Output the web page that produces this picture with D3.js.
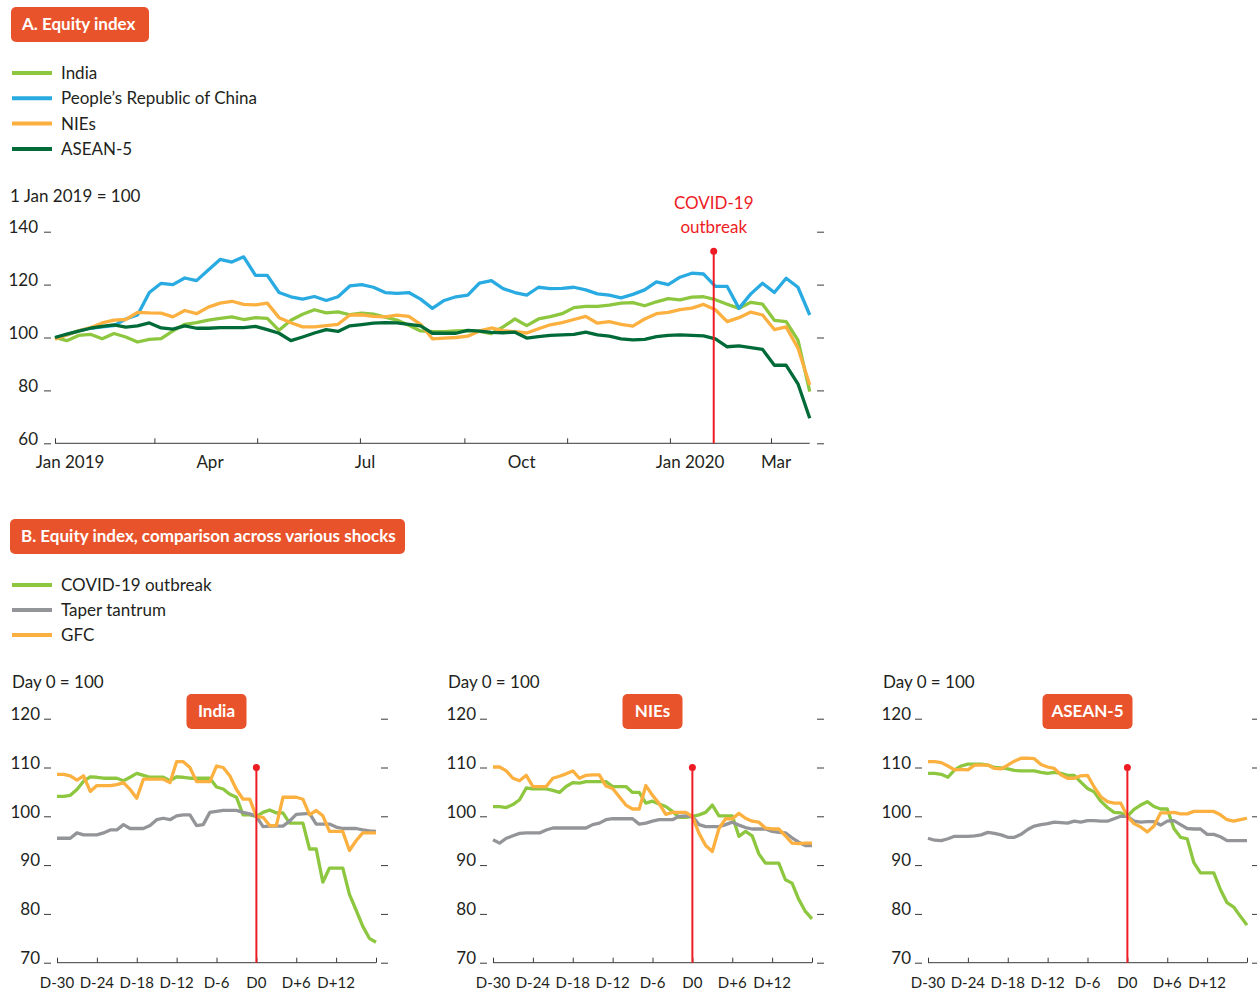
<!DOCTYPE html>
<html><head><meta charset="utf-8">
<script src="https://cdn.jsdelivr.net/npm/d3@7/dist/d3.min.js"></script>
<style>
body{margin:0;background:#fff;}
text{font-family:Lato,"Open Sans",sans-serif;}
</style>
</head><body>
<svg id="c" width="1257" height="991"></svg>
<script>
// ---------------- Panel A data ----------------
const seriesA = ["India", "People\u2019s Republic of China", "NIEs", "ASEAN-5"];
const colorsA = ["#8DC63F", "#29ABE2", "#FBB040", "#006B38"];
const startA = "2019-01-01";          // first weekly observation
const indiaA = [100, 98.8, 100.8, 101.2, 99.5, 101.5, 100.2, 98.3, 99.3, 99.6,
  102.5, 105, 105.6, 106.6, 107.2, 107.8, 106.8, 107.5, 107.2, 102.7,
  106.5, 108.8, 110.5, 109.3, 109.7, 108.6, 109.2, 108.8, 107.7, 106.6,
  104.6, 102.5, 102.2, 102.2, 102.5, 102.6, 102.3, 101.5, 104, 107,
  104.5, 107, 107.9, 109, 111.3, 111.8, 111.8, 112.2, 113, 113.2,
  112, 113.5, 114.7, 114.2, 115.3, 115.4, 114.3, 112.6, 111, 113.3,
  112.6, 106.5, 106, 99, 79.5];
const chinaA = [100, 101, 102.5, 103.5, 104, 104.5, 107, 108.5, 117, 120.5,
  120, 122.5, 121.5, 125.5, 129.5, 128.5, 130.5, 123.5, 123.5, 117,
  115.4, 114.5, 115.5, 114, 115.4, 119.5, 120, 119, 117, 116.7,
  117, 114.5, 111, 114, 115.4, 116, 120.6, 121.5, 118.5, 117,
  116, 119, 118.5, 118.6, 119, 118, 116.5, 116, 115, 116.3,
  118, 121, 120, 122.8, 124.3, 124, 119.3, 119.3, 111, 116.5,
  120.5, 117, 122.4, 119, 108.5];
const niesA = [99.4, 101, 102.5, 103.7, 105.5, 106.6, 106.8, 109.5, 109.3, 109.2,
  107.8, 110.2, 109, 111.5, 113, 113.7, 112.5, 112.3, 113, 107.5,
  105.6, 104, 104, 104.5, 105, 108.5, 108.6, 108, 107.8, 108.5,
  108, 105, 99.5, 99.8, 100, 100.5, 102.5, 103.6, 102.6, 102.2,
  101.7, 103.3, 104.8, 105.6, 106.8, 108, 105.4, 106, 105, 104.3,
  107, 109, 109.5, 110.5, 111.1, 112.5, 110.5, 106, 107.5, 109.6,
  108.5, 103, 104, 96, 82];
const aseanA = [100, 101.3, 102.4, 103.5, 104.2, 104.8, 103.9, 104.4, 105.5, 103.6,
  103.2, 104.4, 103.5, 103.5, 103.7, 103.7, 103.7, 104.2, 103, 101.6,
  98.8, 100.2, 101.7, 103, 102.3, 104.4, 104.9, 105.4, 105.6, 105.5,
  105, 104.4, 101.6, 101.6, 101.6, 102.7, 102.4, 101.9, 101.8, 102,
  99.8, 100.3, 100.8, 101, 101.2, 102, 101, 100.5, 99.5, 99.1,
  99.3, 100.3, 100.8, 101, 100.8, 100.6, 99.5, 96.5, 96.8, 96.2,
  95.5, 89.5, 89.5, 82.5, 69.5];
const yTicksA = [60, 80, 100, 120, 140];
const xTickDatesA = ["2019-01-01", "2019-03-01", "2019-05-01", "2019-07-01", "2019-09-01", "2019-11-01", "2020-01-01", "2020-03-01"];
const xLabelsA = ["Jan 2019", "Apr", "Jul", "Oct", "Jan 2020", "Mar"];
const xLabelDatesA = ["2019-01-10", "2019-04-03", "2019-07-04", "2019-10-05", "2020-01-13", "2020-03-04"];
const covidDateA = "2020-01-27";
const covidTopA = 132.6;

// ---------------- Panel B data ----------------
const seriesB = ["COVID-19 outbreak", "Taper tantrum", "GFC"];
const colorsB = ["#8DC63F", "#939598", "#FBB040"];
const panelsB = ["India", "NIEs", "ASEAN-5"];
const daysB = d3.range(-30, 19);
const indiaCovid = [104.1,104.1,104.3,105.5,107.2,108.1,108,107.8,107.8,107.8,
  107.3,108,108.8,108.4,108,108,108,107.3,108.1,108,
  107.8,107.8,107.8,107.8,106,105.6,104.5,103.9,100.3,100.3,
  100,100.8,101.3,100.7,100.7,98.6,98.6,98.6,93.3,93.3,
  86.5,89.4,89.4,89.4,84,80.8,77.5,75,74.2];
const indiaTaper = [95.5,95.5,95.5,96.6,96.2,96.2,96.2,96.6,97.2,97.2,
  98.3,97.5,97.5,97.5,98.1,99.3,99.6,99.3,100.1,100.3,
  100.3,98.1,98.3,100.8,101,101.2,101.2,101.2,100.8,100.5,
  100,97.9,98,98,98,99,100.4,100.5,100.6,98.4,
  98.4,98.4,97.8,97.5,97.5,97.5,97.2,97,96.9];
const indiaGfc = [108.6,108.6,108.3,107.4,108.3,105.1,106.3,106.3,106.3,106.5,
  106.9,105.5,103.7,107.6,107.6,107.6,107.6,106.9,111.2,111.2,
  110,107.1,107.1,107.1,110.3,110,108.3,105.5,103.5,103.5,
  100,99.8,98.1,98.1,103.9,103.9,103.9,103.5,100.3,101.2,
  100.1,96.9,96.9,96.9,93,95,96.6,96.6,96.6];
const niesCovid = [102,102,101.8,102.4,103.4,105.8,105.6,105.6,105.6,105.3,
  104.9,106.1,106.9,106.8,107.1,107.1,107.1,107.1,106.1,106.1,
  106.1,104.9,104.9,102.7,103.1,102.5,102,101,99.8,99.8,
  100,100.3,100.8,102.3,100.1,100.1,100.1,95.9,96.9,96,
  92.3,90.4,90.4,90.4,87,86.3,83,80.5,79];
const niesTaper = [95.2,94.5,95.5,96,96.5,96.6,96.6,96.6,97.2,97.6,
  97.6,97.6,97.6,97.6,97.6,98.3,98.6,99.3,99.5,99.5,
  99.5,99.5,98.4,98.6,99,99.3,99.3,99.3,100,100.1,
  100,98.3,97.9,97.9,97.9,98.3,98.8,98.2,97.7,97.4,
  97.4,97.4,96.9,96.7,96.6,95.6,94.7,94,94];
const niesGfc = [110.1,110.1,109.3,107.8,107.3,108.4,106.1,106.1,106.1,107.8,
  108.2,108.7,109.3,107.8,108.4,108.5,108.5,106.2,105.7,104,
  102.3,101.5,101.5,106.3,104.3,102.6,100.4,100.8,100.8,100.8,
  100,96.5,94,92.8,97.5,99.5,99.5,100.6,99.6,99,
  98.8,97.6,97.4,97.4,96,94.5,94.4,94.5,94.5];
const aseanCovid = [108.8,108.8,108.6,108,109.5,110.3,110.7,110.7,110.7,110.5,
  110,109.9,109.7,109.4,109.3,109.3,109.3,109,108.8,109,
  108.8,108.4,108.4,107,105.7,105,103.1,101.8,100.8,100.7,
  100,101.4,102.3,103,102,101.5,101.5,97.5,95.7,95.4,
  90.5,88.4,88.4,88.4,85,82.3,81.4,79.5,77.7];
const aseanTaper = [95.5,95.1,95,95.4,95.9,95.9,95.9,96,96.2,96.7,
  96.5,96.2,95.7,95.7,96.3,97.3,98,98.3,98.5,98.8,
  98.7,98.6,99,98.8,99.1,99.1,99,99,99.5,100,
  100,99,98.8,98.9,98.9,98.2,99,99.1,98.3,97.5,
  97.4,97.4,96.3,96.3,95.8,95,95,95,95];
const aseanGfc = [111.2,111.2,111,110.3,109.5,109.6,109.5,110.5,110.5,110.5,
  109.8,109.7,110.5,111.3,111.9,111.9,111.8,110.6,110.1,109.8,
  108.5,107.8,107.8,108.3,108.4,106,104,103,102.7,102.7,
  100,98.5,97.8,96.8,98,100.7,100.7,100.8,100.5,100.5,
  101,101,101,101,100.3,99.3,99,99.3,99.6];
const yTicksB = [70, 80, 90, 100, 110, 120];
const xTickDaysB = [-30, -24, -18, -12, -6, 0, 6, 12, 18];
const xTickLabelsB = ["D-30", "D-24", "D-18", "D-12", "D-6", "D0", "D+6", "D+12", ""];
const covidTopB = 110;

// ---------------- drawing ----------------
const svg = d3.select("#c");
const TXT = "#231F20", AXC = "#3a3a3a", RED = "#ED1C24", BOX = "#E9532B";
const parse = d3.timeParse("%Y-%m-%d");

function titleBox(x, y, w, h, label, anchor) {
  svg.append("rect").attr("x", x).attr("y", y).attr("width", w).attr("height", h)
    .attr("rx", 5).attr("fill", BOX);
  svg.append("text").attr("x", anchor === "middle" ? x + w / 2 : x + 11).attr("y", y + h / 2)
    .attr("dy", "0.35em").attr("text-anchor", anchor || "start")
    .attr("fill", "#fff").attr("font-size", 17).attr("font-weight", 700).text(label);
}
function legend(x, y0, step, names, colors) {
  names.forEach((n, i) => {
    const y = y0 + i * step;
    svg.append("line").attr("x1", x).attr("x2", x + 40).attr("y1", y).attr("y2", y)
      .attr("stroke", colors[i]).attr("stroke-width", 4);
    svg.append("text").attr("x", x + 49).attr("y", y).attr("dy", "0.35em")
      .attr("fill", TXT).attr("font-size", 17).text(n);
  });
}

// ---- Panel A ----
titleBox(11, 7, 138, 35, "A. Equity index");
legend(12, 73, 25.3, seriesA, colorsA);

const x0 = parse(startA);
const datesA = indiaA.map((_, i) => d3.timeDay.offset(x0, 7 * i));
const xA = d3.scaleTime().domain([parse("2019-01-01"), parse("2020-03-01")]).range([55, 771]);
const yA = d3.scaleLinear().domain([60, 140]).range([443.3, 231.7]);

svg.append("text").attr("x", 10).attr("y", 196).attr("dy", "0.35em").attr("fill", TXT)
  .attr("font-size", 17).text("1 Jan 2019 = 100");

const gyA = svg.append("g").attr("transform", "translate(51,0)")
  .call(d3.axisLeft(yA).tickValues(yTicksA).tickSize(7).tickPadding(6));
const gyA2 = svg.append("g").attr("transform", "translate(817,0)")
  .call(d3.axisRight(yA).tickValues(yTicksA).tickSize(7).tickFormat(""));
[gyA, gyA2].forEach(g => {
  g.select(".domain").remove();
  g.selectAll("line").attr("stroke", AXC);
  g.selectAll("text").attr("fill", TXT).attr("font-size", 17).attr("dy", "0.05em")
    .style("font-family", "Lato,sans-serif");
});

const gxA = svg.append("g").attr("transform", `translate(0,${yA(60)})`)
  .call(d3.axisBottom(xA).tickValues(xTickDatesA.map(parse)).tickSize(-5).tickFormat(""));
gxA.select(".domain").remove();
gxA.selectAll("line").attr("stroke", AXC);
svg.append("line").attr("x1", xA(parse("2019-01-01"))).attr("x2", xA(datesA[datesA.length - 1]))
  .attr("y1", yA(60)).attr("y2", yA(60)).attr("stroke", AXC).attr("stroke-width", 1);
xLabelsA.forEach((l, i) => {
  svg.append("text").attr("x", xA(parse(xLabelDatesA[i]))).attr("y", 468)
    .attr("text-anchor", "middle").attr("fill", TXT).attr("font-size", 17).text(l);
});

const lineA = d3.line().x((d, i) => xA(datesA[i])).y(d => yA(d)).curve(d3.curveLinear);
[indiaA, chinaA, niesA, aseanA].forEach((s, i) => {
  svg.append("path").attr("d", lineA(s)).attr("fill", "none").attr("stroke", colorsA[i])
    .attr("stroke-width", 3.3).attr("stroke-linejoin", "round");
});

const cx = xA(parse(covidDateA));
svg.append("line").attr("x1", cx).attr("x2", cx).attr("y1", yA(60)).attr("y2", yA(covidTopA))
  .attr("stroke", RED).attr("stroke-width", 2);
svg.append("circle").attr("cx", cx).attr("cy", yA(covidTopA)).attr("r", 3.5).attr("fill", RED);
svg.append("text").attr("x", cx).attr("y", 203).attr("dy", "0.35em").attr("text-anchor", "middle")
  .attr("fill", RED).attr("font-size", 17).text("COVID-19");
svg.append("text").attr("x", cx).attr("y", 227).attr("dy", "0.35em").attr("text-anchor", "middle")
  .attr("fill", RED).attr("font-size", 17).text("outbreak");

// ---- Panel B ----
titleBox(10, 519, 395, 35, "B. Equity index, comparison across various shocks");
legend(12, 585, 25, seriesB, colorsB);

const dataB = [[indiaCovid, indiaTaper, indiaGfc], [niesCovid, niesTaper, niesGfc], [aseanCovid, aseanTaper, aseanGfc]];
const panelX0 = [57, 493, 928];
const panelBoxW = [60, 60, 90];
const PW = 319;
const yB = d3.scaleLinear().domain([70, 120]).range([962.7, 718.7]);

panelsB.forEach((name, p) => {
  const px = panelX0[p];
  const xB = d3.scaleLinear().domain([-30, 18]).range([px, px + PW]);
  svg.append("text").attr("x", px - 45).attr("y", 682).attr("dy", "0.35em").attr("fill", TXT)
    .attr("font-size", 17).text("Day 0 = 100");
  const gl = svg.append("g").attr("transform", `translate(${px - 6},0)`)
    .call(d3.axisLeft(yB).tickValues(yTicksB).tickSize(7).tickPadding(4));
  const gr = svg.append("g").attr("transform", `translate(${px + PW + 5},0)`)
    .call(d3.axisRight(yB).tickValues(yTicksB).tickSize(7).tickFormat(""));
  [gl, gr].forEach(g => {
    g.select(".domain").remove();
    g.selectAll("line").attr("stroke", AXC);
    g.selectAll("text").attr("fill", TXT).attr("font-size", 17).attr("dy", "0.05em")
      .style("font-family", "Lato,sans-serif");
  });
  const gx = svg.append("g").attr("transform", `translate(0,${yB(70)})`)
    .call(d3.axisBottom(xB).tickValues(xTickDaysB).tickSize(-5).tickFormat(""));
  gx.select(".domain").remove();
  gx.selectAll("line").attr("stroke", AXC);
  svg.append("line").attr("x1", px).attr("x2", px + PW).attr("y1", yB(70)).attr("y2", yB(70))
    .attr("stroke", AXC).attr("stroke-width", 1);
  xTickDaysB.forEach((d, i) => {
    if (!xTickLabelsB[i]) return;
    svg.append("text").attr("x", xB(d)).attr("y", 988).attr("text-anchor", "middle")
      .attr("fill", TXT).attr("font-size", 15).text(xTickLabelsB[i]);
  });
  const line = d3.line().x((d, i) => xB(daysB[i])).y(d => yB(d));
  dataB[p].forEach((s, i) => {
    svg.append("path").attr("d", line(s)).attr("fill", "none").attr("stroke", colorsB[i])
      .attr("stroke-width", 3.3).attr("stroke-linejoin", "round");
  });
  const c = xB(0);
  svg.append("line").attr("x1", c).attr("x2", c).attr("y1", yB(70)).attr("y2", yB(covidTopB))
    .attr("stroke", RED).attr("stroke-width", 2);
  svg.append("circle").attr("cx", c).attr("cy", yB(covidTopB)).attr("r", 3.5).attr("fill", RED);
  const bw = panelBoxW[p];
  titleBox(xB(-6) - bw / 2, 694, bw, 35, name, "middle");
});
</script>
</body></html>
